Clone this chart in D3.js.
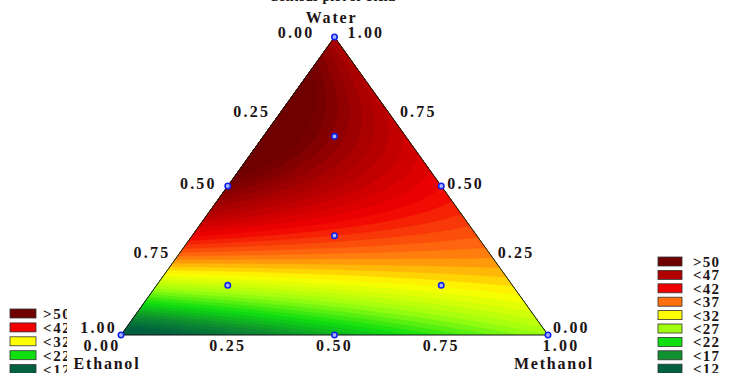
<!DOCTYPE html>
<html>
<head>
<meta charset="utf-8">
<script src="https://cdn.jsdelivr.net/npm/d3@7"></script>
<style>
  body { margin: 0; background: #fff; }
  svg { display: block; }
  text { font-family: "Liberation Serif", "Times New Roman", serif; font-weight: bold; fill: #1c1414; }
</style>
</head>
<body>
<svg id="chart" width="738" height="373"></svg>
<script>
// Mixture design points (component fractions) and measured response
const waterFrac    = [1, 0, 0, 0.5, 0.5, 0,   1/3, 2/3, 1/6, 1/6];
const ethanolFrac  = [0, 1, 0, 0.5, 0,   0.5, 1/3, 1/6, 2/3, 1/6];
const methanolFrac = [0, 0, 1, 0,   0.5, 0.5, 1/3, 1/6, 1/6, 2/3];
const response     = [47, 9, 27, 51, 42, 19, 40, 50, 29, 32];

// Colour ramp of the contour fill
const colorStops = [12, 17, 22, 27, 32, 37, 42, 47, 52];
const stopColors = ["#006040", "#109030", "#10e010", "#a0ff10", "#ffff00", "#ff7010", "#f00000", "#b00000", "#700000"];

// Legends
const legendLabels = [">50", "<47", "<42", "<37", "<32", "<27", "<22", "<17", "<12"];
const legendColors = ["#700000", "#b00000", "#f00000", "#ff7010", "#ffff00", "#a0ff10", "#10e010", "#109030", "#006040"];
const leftLegendLabels = [">50", "<42", "<32", "<22", "<12"];
const leftLegendColors = ["#700000", "#f00000", "#ffff00", "#10e010", "#006040"];

// Axis ticks
const tickValues = [0, 0.25, 0.5, 0.75, 1];
const tickLabels = ["0.00", "0.25", "0.50", "0.75", "1.00"];
const componentNames = ["Water", "Ethanol", "Methanol"];
const plotTitle = "Contour plot of Yield";

const svg = d3.select("#chart");

// Ternary geometry: horizontal position along the base, vertical by water fraction
const xScale = d3.scaleLinear().domain([0, 1]).range([121, 548]);
const yScale = d3.scaleLinear().domain([0, 1]).range([335, 37]);
const px = (w, e, m) => xScale(m + w / 2);
const py = (w, e, m) => yScale(w);

// Special cubic Scheffé model fitted by least squares
function terms(w, e, m) { return [w, e, m, w * e, w * m, e * m, w * e * m]; }
function fitModel() {
  const k = 7;
  const A = Array.from({length: k}, () => new Array(k).fill(0));
  const b = new Array(k).fill(0);
  response.forEach((y, i) => {
    const t = terms(waterFrac[i], ethanolFrac[i], methanolFrac[i]);
    for (let r = 0; r < k; r++) {
      b[r] += t[r] * y;
      for (let c = 0; c < k; c++) A[r][c] += t[r] * t[c];
    }
  });
  // Gaussian elimination with partial pivoting
  for (let c = 0; c < k; c++) {
    let p = c;
    for (let r = c + 1; r < k; r++) if (Math.abs(A[r][c]) > Math.abs(A[p][c])) p = r;
    [A[c], A[p]] = [A[p], A[c]]; [b[c], b[p]] = [b[p], b[c]];
    for (let r = c + 1; r < k; r++) {
      const f = A[r][c] / A[c][c];
      for (let cc = c; cc < k; cc++) A[r][cc] -= f * A[c][cc];
      b[r] -= f * b[c];
    }
  }
  const coef = new Array(k).fill(0);
  for (let r = k - 1; r >= 0; r--) {
    let s = b[r];
    for (let c = r + 1; c < k; c++) s -= A[r][c] * coef[c];
    coef[r] = s / A[r][r];
  }
  return coef;
}
const coef = fitModel();
const predict = (w, e, m) => d3.sum(terms(w, e, m), (t, i) => t * coef[i]);

// Grid of predictions over the triangle's bounding box
const gx0 = xScale(0), gy0 = yScale(1);
const nx = Math.ceil(xScale(1) - gx0) + 1, ny = Math.ceil(yScale(0) - gy0) + 1;
const values = new Float64Array(nx * ny);
for (let j = 0; j < ny; j++) {
  const w = yScale.invert(gy0 + j + 0.5);
  for (let i = 0; i < nx; i++) {
    const m = xScale.invert(gx0 + i + 0.5) - w / 2;
    values[j * nx + i] = predict(w, 1 - w - m, m);
  }
}
const [vmin, vmax] = d3.extent(values);
const thresholds = d3.range(Math.floor(vmin), Math.ceil(vmax) + 1, 1);
const color = d3.scaleLinear().domain(colorStops).range(stopColors).clamp(true);

const contours = d3.contours().size([nx, ny]).thresholds(thresholds)(values);

const triangle = [[px(1,0,0), py(1,0,0)], [px(0,1,0), py(0,1,0)], [px(0,0,1), py(0,0,1)]];
const defs = svg.append("defs");
defs.append("clipPath").attr("id", "tri-clip")
  .append("path").attr("d", d3.line()(triangle) + "Z");
defs.append("clipPath").attr("id", "left-legend-clip")
  .append("rect").attr("x", 0).attr("y", 0).attr("width", 67).attr("height", 373);

const path = d3.geoPath(d3.geoIdentity().translate([gx0, gy0]));
svg.append("g").attr("clip-path", "url(#tri-clip)")
  .selectAll("path").data(contours).join("path")
  .attr("d", path)
  .attr("fill", d => color(d.value + 0.5))
  .attr("stroke", d => color(d.value + 0.5))
  .attr("stroke-width", 0.4);

// Triangle outline
svg.append("path")
  .attr("d", d3.line()(triangle) + "Z")
  .attr("fill", "none").attr("stroke", "#141414").attr("stroke-width", 1);

// Design points
svg.append("g").selectAll("circle").data(response).join("circle")
  .attr("cx", (d, i) => px(waterFrac[i], ethanolFrac[i], methanolFrac[i]))
  .attr("cy", (d, i) => py(waterFrac[i], ethanolFrac[i], methanolFrac[i]))
  .attr("r", 2.7)
  .attr("fill", "#a8b4ff").attr("stroke", "#1020ee").attr("stroke-width", 1.6);

// Tick labels
const tickFont = g => g.attr("font-size", 16).attr("letter-spacing", 2.2);
// Left edge: ethanol fraction (0 at apex)
const leftNudge = [[-20, 1], [-11, 5.5], [-11, 3], [-4, -2.5], [-4, -2]];
svg.append("g").call(tickFont).selectAll("text").data(tickValues).join("text")
  .attr("text-anchor", "end")
  .attr("x", (e, i) => px(1 - e, e, 0) + leftNudge[i][0])
  .attr("y", (e, i) => py(1 - e, e, 0) + leftNudge[i][1])
  .text((e, i) => tickLabels[i]);
// Right edge: water fraction (1 at apex)
const rightNudge = [[5, -2], [3, -2.5], [6, 3], [12, 5.5], [13, 1]];
svg.append("g").call(tickFont).selectAll("text").data(tickValues).join("text")
  .attr("text-anchor", "start")
  .attr("x", (w, i) => px(w, 0, 1 - w) + rightNudge[i][0])
  .attr("y", (w, i) => py(w, 0, 1 - w) + rightNudge[i][1])
  .text((w, i) => tickLabels[i]);
// Base: methanol fraction
const baseNudge = [-19, 0, 0, 0, 13];
svg.append("g").call(tickFont).selectAll("text").data(tickValues).join("text")
  .attr("text-anchor", "middle")
  .attr("x", (m, i) => xScale(m) + baseNudge[i])
  .attr("y", yScale(0) + 16)
  .text((m, i) => tickLabels[i]);

// Component names
const nameFont = g => g.attr("font-size", 16).attr("letter-spacing", 1.8).attr("text-anchor", "middle");
svg.append("text").call(nameFont).attr("x", px(1,0,0) - 3).attr("y", py(1,0,0) - 14).text(componentNames[0]);
svg.append("text").call(nameFont).attr("x", px(0,1,0) - 14).attr("y", py(0,1,0) + 34).text(componentNames[1]);
svg.append("text").call(nameFont).attr("x", px(0,0,1) + 6).attr("y", py(0,0,1) + 34).text(componentNames[2]);

// Title, mostly above the top edge
svg.append("text").attr("font-size", 14).attr("text-anchor", "middle")
  .attr("x", 332).attr("y", 1).text(plotTitle);

// Right legend
const rl = svg.append("g").attr("transform", "translate(658,257)");
const rItems = rl.selectAll("g").data(legendLabels).join("g")
  .attr("transform", (d, i) => `translate(0,${i * 13.4})`);
rItems.append("rect").attr("width", 24).attr("height", 9)
  .attr("fill", (d, i) => legendColors[i]).attr("stroke", "#333").attr("stroke-width", 0.8);
rItems.append("text").attr("x", 35).attr("y", 10).attr("font-size", 15).attr("letter-spacing", 1.2).text(d => d);

// Left legend (cut off by its frame)
const ll = svg.append("g").attr("clip-path", "url(#left-legend-clip)")
  .append("g").attr("transform", "translate(10,309)");
const lItems = ll.selectAll("g").data(leftLegendLabels).join("g")
  .attr("transform", (d, i) => `translate(0,${i * 13.9})`);
lItems.append("rect").attr("width", 26).attr("height", 9)
  .attr("fill", (d, i) => leftLegendColors[i]).attr("stroke", "#333").attr("stroke-width", 0.8);
lItems.append("text").attr("x", 33).attr("y", 10).attr("font-size", 15).attr("letter-spacing", 1.6).text(d => d);
</script>
</body>
</html>
